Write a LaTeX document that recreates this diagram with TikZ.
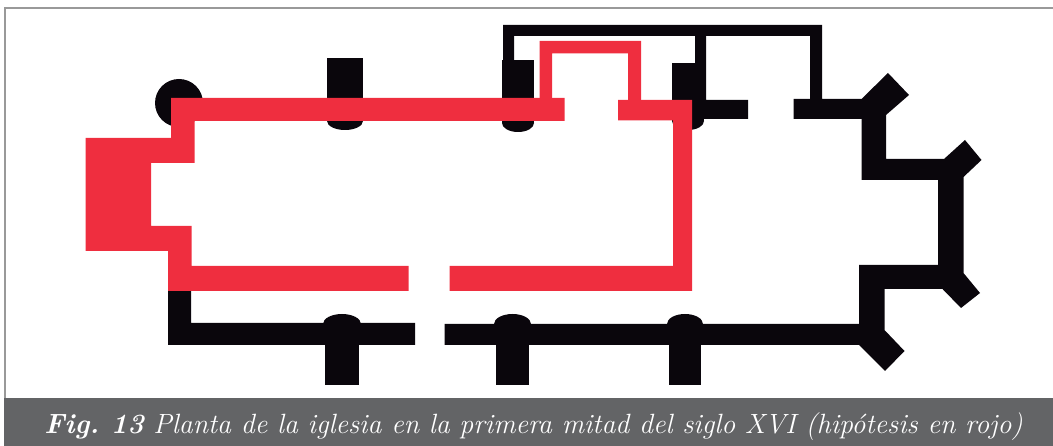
\documentclass[tikz,border=0pt]{standalone}
\definecolor{wallblack}{HTML}{0A060C}
\definecolor{wallred}{HTML}{EF2E3F}
\definecolor{barcolor}{HTML}{636466}
\tikzset{
  oldwall/.style={fill=wallblack, draw=none},
  newwall/.style={fill=wallred, draw=none},
  caption/.style={text=white, anchor=center, inner sep=0pt,
    font=\fontsize{27.85}{30}\selectfont\itshape}
}
\begin{document}
\begin{tikzpicture}[x=1pt, y=-1pt]
\useasboundingbox (0,0) rectangle (1053,446);
\draw[gray!80, line width=1.2pt] (5,398) -- (5,8) -- (1053,8);
\fill[barcolor] (4,398) rectangle (1053,446);
\node[caption] (title) at (533.5,426.5) {\textbf{Fig.\ 13} Planta de la iglesia en la primera mitad del siglo XVI (hipótesis en rojo)};
% black walls
\fill[oldwall] (179,103) circle (24);
\foreach \xa/\xb/\ytop/\ybot in {327/363/58/121, 502/534/60/123, 672/704/63/121} {
  \fill[oldwall] (\xa,\ytop) rectangle (\xb,\ybot);
  \fill[oldwall] ({(\xa+\xb)/2},\ybot) ellipse ({(\xb-\xa)/2} and 9);
}
\fill[oldwall] (503,60) -- (503,25) -- (822,25) -- (822,99) -- (861.5,99)
  -- (888,73) -- (909,95) -- (886,115) -- (886,159) -- (944,159)
  -- (965,140) -- (981.5,160) -- (963.5,177) -- (963.5,273)
  -- (980,293) -- (961,308) -- (942.5,289) -- (884.5,289) -- (884.5,330)
  -- (904.5,351) -- (885,371) -- (859,345) -- (444.5,345) -- (444.5,324)
  -- (859,324) -- (859,265) -- (938,265) -- (938,180) -- (861.5,180)
  -- (861.5,119) -- (793.5,119) -- (793.5,99) -- (810,99) -- (810,36)
  -- (706,36) -- (706,100) -- (748,100) -- (748,119) -- (692,119)
  -- (692,100) -- (695,100) -- (695,36) -- (514,36) -- (514,60) -- cycle;
\fill[oldwall] (168,285) -- (191,285) -- (191,323) -- (415,323) -- (415,345) -- (168,345) -- cycle;
\foreach \xa/\xb in {325/359, 496/529, 669/701} {
  \fill[oldwall] (\xa,324) rectangle (\xb,385);
  \fill[oldwall] ({(\xa+\xb)/2},324) ellipse ({(\xb-\xa)/2+2} and 10);
}
% red walls
\fill[newwall] (171,98) -- (564.5,98) -- (564.5,121) -- (194.5,121) -- (194.5,163)
  -- (151,163) -- (151,226) -- (191.5,226) -- (191.5,266) -- (408.5,266)
  -- (408.5,291) -- (168,291) -- (168,251) -- (85.5,251) -- (85.5,138) -- (171,138) -- cycle;
\fill[newwall] (618,100) -- (692,100) -- (692,291) -- (449.5,291) -- (449.5,266)
  -- (673,266) -- (673,120.5) -- (618,120.5) -- cycle;
\fill[newwall] (539.5,98) -- (539.5,41) -- (641,41) -- (641,100) -- (628,100)
  -- (628,53.5) -- (552,53.5) -- (552,98) -- cycle;
\end{tikzpicture}
\end{document}
